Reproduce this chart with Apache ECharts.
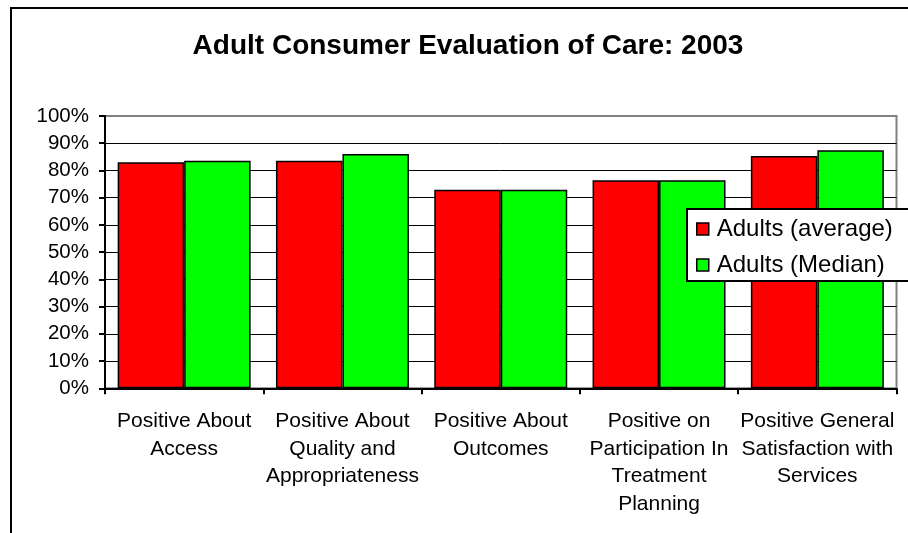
<!DOCTYPE html>
<html>
<head>
<meta charset="utf-8">
<script src="https://cdn.jsdelivr.net/npm/echarts@6/dist/echarts.min.js"></script>
<style>
  html, body { margin: 0; padding: 0; background: #fff; }
  #chart { width: 908px; height: 533px; }
</style>
</head>
<body>
<div id="chart"></div>
<script>
// Survey domains (x-axis categories)
const categories = [
  'Positive About\nAccess',
  'Positive About\nQuality and\nAppropriateness',
  'Positive About\nOutcomes',
  'Positive on\nParticipation In\nTreatment\nPlanning',
  'Positive General\nSatisfaction with\nServices'
];

// Percent positive per domain
const adultsAverage = [83.0, 83.6, 72.9, 76.4, 85.3];
const adultsMedian  = [83.6, 86.0, 72.9, 76.4, 87.4];

const seriesNames = ['Adults (average)', 'Adults (Median)'];
const yTicks = { min: 0, max: 100, step: 10 };

const FONT = '"Liberation Sans", Arial, sans-serif';

// Gridline colours: black everywhere except the top edge, which is grey
const gridColors = [];
for (let v = yTicks.min; v <= yTicks.max; v += yTicks.step) {
  gridColors.push(v === yTicks.max ? '#808080' : '#000000');
}

const chart = echarts.init(document.getElementById('chart'), null, { renderer: 'canvas' });

chart.setOption({
  backgroundColor: '#ffffff',
  animation: false,
  textStyle: { fontFamily: FONT, color: '#000' },
  title: {
    text: 'Adult Consumer Evaluation of Care: 2003',
    left: 463,
    textAlign: 'center',
    top: 27,
    textStyle: { fontFamily: FONT, fontSize: 28, fontWeight: 'bold', color: '#000' }
  },
  graphic: [{
    type: 'rect',
    z: -10,
    silent: true,
    shape: { x: 11, y: 8, width: 1200, height: 1000 },
    style: { fill: 'none', stroke: '#000', lineWidth: 2 }
  }],
  grid: {
    left: 105,
    right: 11.5,
    top: 116,
    bottom: 144.7,
    show: true,
    borderColor: '#808080',
    borderWidth: 2,
    backgroundColor: 'transparent'
  },
  legend: {
    orient: 'vertical',
    left: 687,
    top: 209,
    data: seriesNames,
    icon: 'rect',
    itemWidth: 12,
    itemHeight: 12,
    itemGap: 12,
    padding: [8, 40, 4, 9],
    backgroundColor: '#fff',
    borderColor: '#000',
    borderWidth: 2,
    borderRadius: 0,
    z: 10,
    itemStyle: { borderColor: '#000', borderWidth: 1.5 },
    textStyle: { fontFamily: FONT, fontSize: 24, color: '#000', padding: [0, 0, 0, 3] }
  },
  xAxis: {
    type: 'category',
    data: categories,
    axisLine: { lineStyle: { color: '#000', width: 2 } },
    axisTick: { show: true, length: 6, lineStyle: { color: '#000', width: 2 } },
    axisLabel: {
      interval: 0,
      margin: 19,
      fontFamily: FONT,
      fontSize: 21,
      lineHeight: 27.7,
      color: '#000',
      align: 'center'
    },
    splitLine: { show: false }
  },
  yAxis: {
    type: 'value',
    min: yTicks.min,
    max: yTicks.max,
    interval: yTicks.step,
    axisLine: { show: true, lineStyle: { color: '#000', width: 2 } },
    axisTick: { show: true, length: 6, lineStyle: { color: '#000', width: 2 } },
    axisLabel: {
      margin: 16,
      fontFamily: FONT,
      fontSize: 20.5,
      color: '#000',
      formatter: '{value}%'
    },
    splitLine: { show: true, lineStyle: { color: gridColors, width: 1 } }
  },
  series: [
    {
      name: seriesNames[0],
      type: 'bar',
      data: adultsAverage,
      barGap: '0%',
      barCategoryGap: '16%',
      itemStyle: { color: '#ff0000', borderColor: '#000', borderWidth: 1.5 }
    },
    {
      name: seriesNames[1],
      type: 'bar',
      data: adultsMedian,
      barGap: '0%',
      barCategoryGap: '16%',
      itemStyle: { color: '#00ff00', borderColor: '#000', borderWidth: 1.5 }
    }
  ]
});
</script>
</body>
</html>
